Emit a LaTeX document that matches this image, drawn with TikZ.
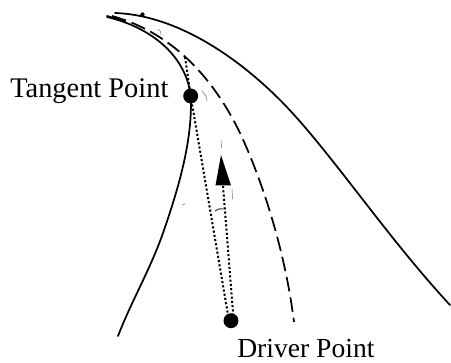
\documentclass[tikz,border=0pt]{standalone}
\usepackage{fontspec}
\setmainfont{Liberation Serif}
\begin{document}
\begin{tikzpicture}[x=0.75pt,y=-0.75pt,
  edge/.style={line width=1.3pt,line cap=round},
  lane/.style={line width=1.3pt,dash pattern=on 11pt off 4.5pt},
  sight/.style={line width=1.5pt,dash pattern=on 1.6pt off 1.6pt},
  pt/.style={circle,fill=black,draw=none,inner sep=0pt,minimum size=11.2pt},
  lbl/.style={inner sep=0pt,text=black,anchor=base west},
  faint/.style={line width=0.4pt,draw=black!55}]
\useasboundingbox (0,0) rectangle (451,363);
\node[pt] (tp) at (190.7,96) {};
\node[pt] (dp) at (231,320.7) {};
\coordinate (gaze) at (185,57);
\coordinate (head) at (223,186);
\node[lbl,font=\fontsize{21.3pt}{24pt}\selectfont] (tl) at (10,98) {Tangent Point};
\node[lbl,font=\fontsize{20.7pt}{24pt}\selectfont] (dl) at (237,358) {Driver Point};
% road edges
\draw[edge] (107,17) .. controls (150,27) and (186,55) .. (tp.center)
  .. controls (193,140) and (178,190) .. (163,233)
  .. controls (150,270) and (132,300) .. (118,336);
\draw[edge] (115,13) .. controls (175,15) and (235,55) .. (280,100)
  .. controls (328,148) and (385,235) .. (450,305);
% centre line
\draw[lane] (112,16) .. controls (170,32) and (212,75) .. (240,133)
  .. controls (262,180) and (285,250) .. (294,322);
\draw[edge] (107,16) -- (125,21);
% sight lines
\draw[sight] (gaze) -- (tp.center);
\draw[sight] (tp.center) -- ([xshift=-1.5pt]dp.center);
\draw[sight] (head) -- ([xshift=2pt]dp.center);
% heading arrow
\fill (221,155) -- (231,185.5) -- (215.5,185.5) -- cycle;
% small marks
\fill (142.5,14.5) circle (1.6pt);
\draw[faint] (158,29) .. controls (161,31) and (161,33) .. (161,35);
\draw[faint] (202,91) .. controls (205,94) and (207,97) .. (207,101);
\draw[line width=0.7pt,draw=black!80] (215,211) .. controls (218,209) and (221,208) .. (224,209);
\draw[faint] (232,189) -- (232.5,199);
\draw[faint] (221,140) -- (221.5,148);
\draw[faint] (182,205) -- (185,204);
\end{tikzpicture}
\end{document}
